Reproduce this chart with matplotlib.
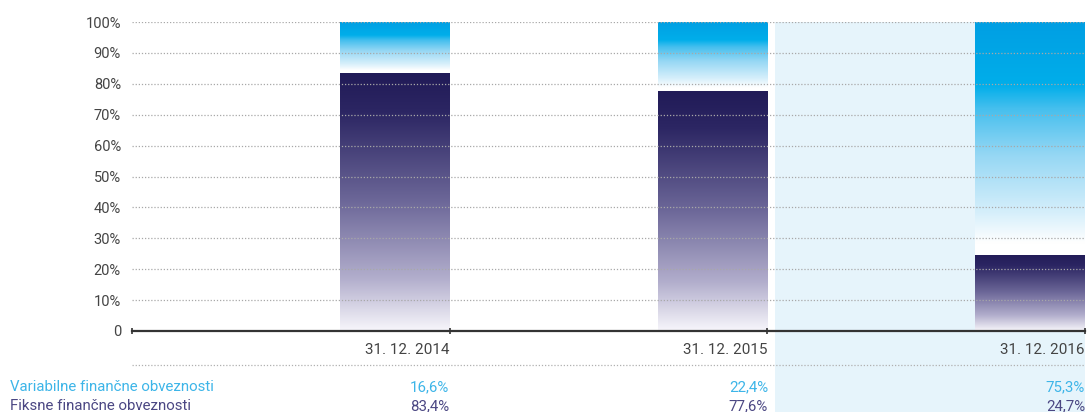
import numpy as np
import matplotlib
matplotlib.use("Agg")
import matplotlib.pyplot as plt
from matplotlib.colors import LinearSegmentedColormap
from matplotlib.patches import Rectangle

categories = ["31. 12. 2014", "31. 12. 2015", "31. 12. 2016"]
variable = [16.6, 22.4, 75.3]
fixed = [83.4, 77.6, 24.7]
variable_labels = ["16,6%", "22,4%", "75,3%"]
fixed_labels = ["83,4%", "77,6%", "24,7%"]
row_names = ["Variabilne finančne obveznosti", "Fiksne finančne obveznosti"]
yticks = [0, 10, 20, 30, 40, 50, 60, 70, 80, 90, 100]
ytick_labels = ["0"] + [f"{v}%" for v in yticks[1:]]

plt.rcParams['font.family'] = ['Roboto', 'DejaVu Sans']

W, H = 1087, 412
fig = plt.figure(figsize=(W / 100, H / 100), dpi=100)
ax = fig.add_axes([132 / W, 81 / H, (1085 - 132) / W, 309 / H])
ax.patch.set_alpha(0)

# highlighted last period background (extends down through table)
fig.add_artist(Rectangle((775 / W, 0), (1085 - 775) / W, 390 / H,
                         transform=fig.transFigure, facecolor="#E6F4FB",
                         edgecolor="none", zorder=-5))

cmap_fixed = LinearSegmentedColormap.from_list(
    "fixed", [(0, "#211B57"), (0.15, "#2C2663"), (0.5, "#6D6899"),
              (0.8, "#B3AFCD"), (1, "#F7F6FB")])
cmap_var = LinearSegmentedColormap.from_list(
    "var", [(0, "#009FE3"), (0.27, "#00AEEA"), (0.37, "#45BFEE"),
            (0.57, "#95D7F4"), (0.82, "#D6EFFB"), (0.95, "#FFFFFF"), (1, "#FFFFFF")])
grad = np.linspace(0, 1, 256).reshape(-1, 1)

bar_left, bar_right = 0.655, 1.0
for i, (v, f) in enumerate(zip(variable, fixed)):
    x0, x1 = i + bar_left, i + bar_right
    ax.imshow(grad, cmap=cmap_fixed, extent=[x0, x1, 0, f], aspect='auto',
              origin='upper', interpolation='bilinear', zorder=1)
    ax.imshow(grad, cmap=cmap_var, extent=[x0, x1, 100 - v, 100], aspect='auto',
              origin='upper', interpolation='bilinear', zorder=1)

ax.set_xlim(0, 3)
ax.set_ylim(0, 100)

# grid lines
for y in yticks[1:]:
    ax.axhline(y, color="#A8A8A8", lw=0.9, ls=(0, (1, 1.5)), zorder=3)

for s in ["top", "right", "left"]:
    ax.spines[s].set_visible(False)
ax.spines["bottom"].set_color("#333333")
ax.spines["bottom"].set_linewidth(1.6)
ax.spines["bottom"].set_zorder(4)

ax.set_yticks(yticks)
ax.set_yticklabels(ytick_labels)
ax.tick_params(axis='y', length=0, pad=8, labelsize=10.5, labelcolor="#444444")
ax.set_xticks([0, 1, 2, 3])
ax.set_xticklabels([])
ax.tick_params(axis='x', length=4, width=1.2, color="#333333", direction='inout')

# category labels
for i, c in enumerate(categories):
    ax.text(i + 1, -6, c, ha='right', va='center', fontsize=11, color="#444444",
            transform=ax.transData, clip_on=False)

# dotted separator
fig.add_artist(plt.Line2D([132 / W, 1085 / W], [1 - 365 / H, 1 - 365 / H],
                          transform=fig.transFigure, color="#B0B0B0", lw=0.9,
                          ls=(0, (1, 1.5))))

# table rows
row_y = [1 - 387 / H, 1 - 406 / H]
row_colors = ["#3DB5E8", "#4B4783"]
fig.text(10 / W, row_y[0], row_names[0], ha='left', va='center', fontsize=10.8, color=row_colors[0])
fig.text(10 / W, row_y[1], row_names[1], ha='left', va='center', fontsize=10.8, color=row_colors[1])
tick_px = [449, 768, 1085]
for i in range(3):
    fig.text(tick_px[i] / W, row_y[0], variable_labels[i], ha='right', va='center',
             fontsize=10.8, color=row_colors[0])
    fig.text(tick_px[i] / W, row_y[1], fixed_labels[i], ha='right', va='center',
             fontsize=10.8, color=row_colors[1])

fig.savefig("out.png", dpi=100)
